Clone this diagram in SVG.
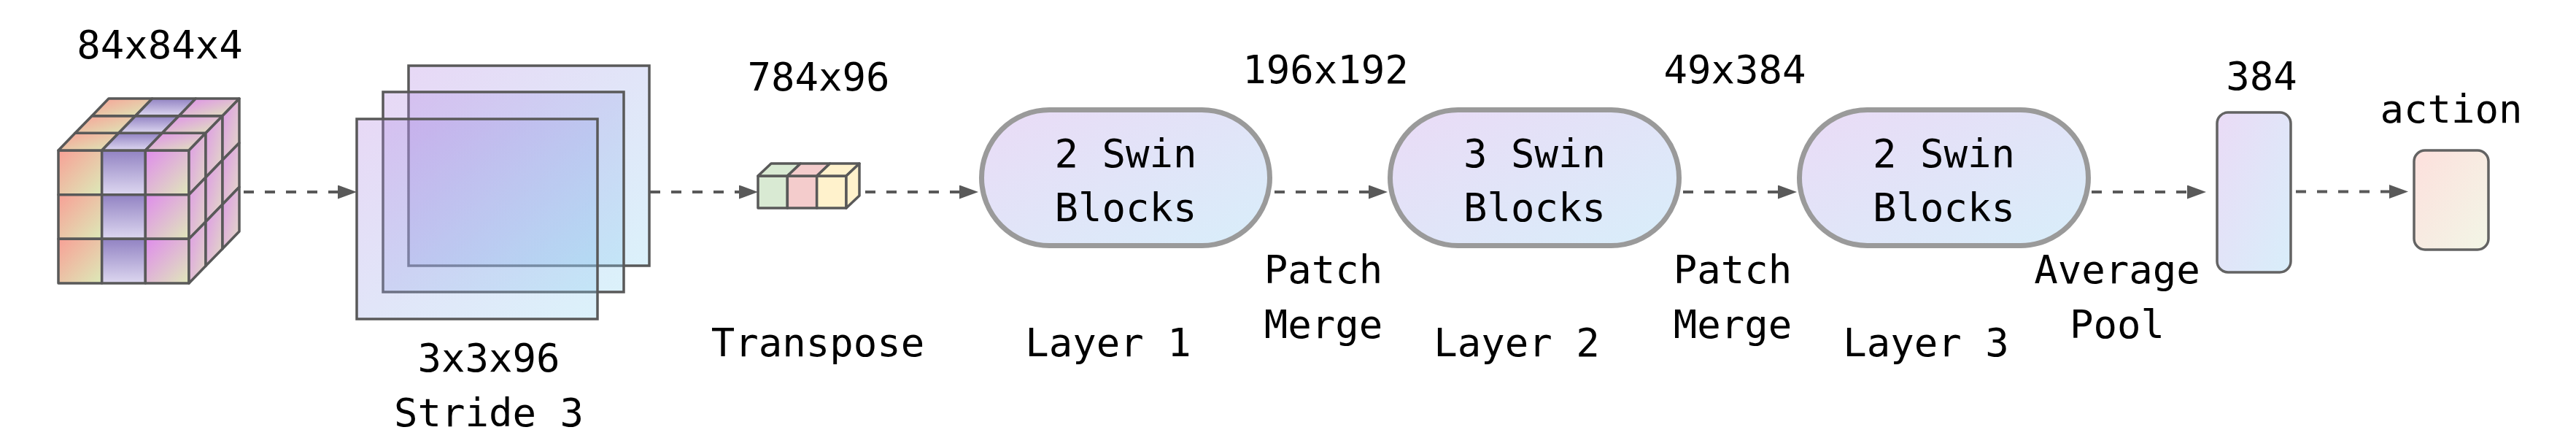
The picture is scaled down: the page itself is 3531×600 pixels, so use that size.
<svg xmlns="http://www.w3.org/2000/svg" width="3531" height="600" viewBox="0 0 3531 600">
<defs>
<style>
text{font-family:"DejaVu Sans Mono","Liberation Mono",monospace;font-size:54px;fill:#000;text-anchor:middle}
.c{stroke:#595959;stroke-width:3.5;stroke-linejoin:round}
.pill{fill:url(#gPill);stroke:#9a9a9a;stroke-width:7}
.conn{fill:none;stroke:#595959;stroke-width:4;stroke-dasharray:14 15}
.layer{fill:url(#gLayer);fill-opacity:0.3;stroke:#595959;stroke-width:3.5}
</style>
<linearGradient id="gA" x1="0" y1="0" x2="1" y2="1"><stop offset="0" stop-color="#f8a096"/><stop offset="1" stop-color="#dceab8"/></linearGradient>
<linearGradient id="gB" x1="0" y1="0" x2="0" y2="1"><stop offset="0" stop-color="#9283c3"/><stop offset="1" stop-color="#ddd7f0"/></linearGradient>
<linearGradient id="gC" x1="0" y1="0" x2="1" y2="1"><stop offset="0" stop-color="#df8cec"/><stop offset="1" stop-color="#e0e8ba"/></linearGradient>
<linearGradient id="gR" x1="0" y1="0" x2="1" y2="1"><stop offset="0" stop-color="#de98e8"/><stop offset="1" stop-color="#e2dcc4"/></linearGradient>
<linearGradient id="gLayer" x1="0" y1="0" x2="1" y2="1"><stop offset="0" stop-color="#b07fe0"/><stop offset="1" stop-color="#88d2f0"/></linearGradient>
<linearGradient id="gPill" x1="0" y1="0" x2="1" y2="1"><stop offset="0" stop-color="#eadbf6"/><stop offset="1" stop-color="#d8eefa"/></linearGradient>
<linearGradient id="gAct" x1="0" y1="0" x2="1" y2="1"><stop offset="0" stop-color="#fde0dd"/><stop offset="1" stop-color="#f2f6e6"/></linearGradient>
<marker id="ah" markerUnits="userSpaceOnUse" markerWidth="27" markerHeight="20" refX="0" refY="9.5" orient="auto"><path d="M0,0 L26,9.5 L0,19 Z" fill="#595959"/></marker>
</defs>
<rect width="3531" height="600" fill="#ffffff"/>

<g id="input-cube">
<text x="219" y="80">84x84x4</text>
<g class="c">
<rect x="80" y="206" width="59.67" height="60.67" fill="url(#gA)"/>
<rect x="80" y="266.67" width="59.67" height="60.67" fill="url(#gA)"/>
<rect x="80" y="327.33" width="59.67" height="60.67" fill="url(#gA)"/>
<rect x="139.67" y="206" width="59.67" height="60.67" fill="url(#gB)"/>
<rect x="139.67" y="266.67" width="59.67" height="60.67" fill="url(#gB)"/>
<rect x="139.67" y="327.33" width="59.67" height="60.67" fill="url(#gB)"/>
<rect x="199.33" y="206" width="59.67" height="60.67" fill="url(#gC)"/>
<rect x="199.33" y="266.67" width="59.67" height="60.67" fill="url(#gC)"/>
<rect x="199.33" y="327.33" width="59.67" height="60.67" fill="url(#gC)"/>
<polygon points="80,206 139.67,206 162.67,182.33 103,182.33" fill="url(#gA)"/>
<polygon points="139.67,206 199.33,206 222.33,182.33 162.67,182.33" fill="url(#gB)"/>
<polygon points="199.33,206 259,206 282,182.33 222.33,182.33" fill="url(#gC)"/>
<polygon points="103,182.33 162.67,182.33 185.67,158.67 126,158.67" fill="url(#gA)"/>
<polygon points="162.67,182.33 222.33,182.33 245.33,158.67 185.67,158.67" fill="url(#gB)"/>
<polygon points="222.33,182.33 282,182.33 305,158.67 245.33,158.67" fill="url(#gC)"/>
<polygon points="126,158.67 185.67,158.67 208.67,135 149,135" fill="url(#gA)"/>
<polygon points="185.67,158.67 245.33,158.67 268.33,135 208.67,135" fill="url(#gB)"/>
<polygon points="245.33,158.67 305,158.67 328,135 268.33,135" fill="url(#gC)"/>
<polygon points="259,206 282,182.33 282,243 259,266.67" fill="url(#gR)"/>
<polygon points="282,182.33 305,158.67 305,219.33 282,243" fill="url(#gR)"/>
<polygon points="305,158.67 328,135 328,195.67 305,219.33" fill="url(#gR)"/>
<polygon points="259,266.67 282,243 282,303.67 259,327.33" fill="url(#gR)"/>
<polygon points="282,243 305,219.33 305,280 282,303.67" fill="url(#gR)"/>
<polygon points="305,219.33 328,195.67 328,256.33 305,280" fill="url(#gR)"/>
<polygon points="259,327.33 282,303.67 282,364.33 259,388" fill="url(#gR)"/>
<polygon points="282,303.67 305,280 305,340.67 282,364.33" fill="url(#gR)"/>
<polygon points="305,280 328,256.33 328,317 305,340.67" fill="url(#gR)"/>
</g>
</g>

<g id="conv-layers">
<rect class="layer" x="560" y="90" width="330" height="274"/>
<rect class="layer" x="525" y="126" width="330" height="274"/>
<rect class="layer" x="489" y="163" width="330" height="274"/>
<text x="670" y="509">3x3x96</text>
<text x="670" y="584">Stride 3</text>
</g>

<g id="transpose">
<text x="1122" y="124">784x96</text>
<g class="c">
<rect x="1039" y="241" width="40.33" height="44" fill="#d9ead3"/>
<rect x="1079.33" y="241" width="40.33" height="44" fill="#f4cccc"/>
<rect x="1119.67" y="241" width="40.33" height="44" fill="#fff2cc"/>
<polygon points="1039,241 1079.33,241 1097.33,224 1057,224" fill="#d9ead3"/>
<polygon points="1079.33,241 1119.67,241 1137.67,224 1097.33,224" fill="#f4cccc"/>
<polygon points="1119.67,241 1160,241 1178,224 1137.67,224" fill="#fff2cc"/>
<polygon points="1160,241 1178,224 1178,268 1160,285" fill="#fff2cc"/>
</g>
<text x="1121" y="488">Transpose</text>
</g>

<g id="layer1">
<rect class="pill" x="1345.5" y="150.5" width="395" height="186" rx="93"/>
<text x="1543" y="229">2 Swin</text>
<text x="1543" y="303">Blocks</text>
<text x="1519" y="488">Layer 1</text>
</g>

<g id="merge1">
<text x="1817" y="114">196x192</text>
<text x="1814" y="388">Patch</text>
<text x="1814" y="463">Merge</text>
</g>

<g id="layer2">
<rect class="pill" x="1905.5" y="150.5" width="396" height="186" rx="93"/>
<text x="2103.5" y="229">3 Swin</text>
<text x="2103.5" y="303">Blocks</text>
<text x="2079" y="488">Layer 2</text>
</g>

<g id="merge2">
<text x="2378" y="114">49x384</text>
<text x="2375" y="388">Patch</text>
<text x="2375" y="463">Merge</text>
</g>

<g id="layer3">
<rect class="pill" x="2466.5" y="150.5" width="396" height="186" rx="93"/>
<text x="2664.5" y="229">2 Swin</text>
<text x="2664.5" y="303">Blocks</text>
<text x="2640" y="488">Layer 3</text>
</g>

<g id="avgpool">
<text x="2902" y="388">Average</text>
<text x="2902" y="463">Pool</text>
</g>

<g id="vector">
<text x="3100" y="123">384</text>
<rect x="3039" y="154" width="101" height="219" rx="15" fill="url(#gPill)" stroke="#636363" stroke-width="3.5"/>
</g>

<g id="action">
<text x="3360" y="168">action</text>
<rect x="3309" y="206" width="102" height="136" rx="15" fill="url(#gAct)" stroke="#636363" stroke-width="3.5"/>
</g>

<g id="connectors">
<line class="conn" x1="334" y1="263" x2="463" y2="263" marker-end="url(#ah)"/>
<line class="conn" x1="891" y1="263" x2="1013" y2="263" marker-end="url(#ah)"/>
<line class="conn" x1="1186" y1="263" x2="1315" y2="263" marker-end="url(#ah)"/>
<line class="conn" x1="1747" y1="263" x2="1876" y2="263" marker-end="url(#ah)"/>
<line class="conn" x1="2307" y1="263" x2="2437" y2="263" marker-end="url(#ah)"/>
<line class="conn" x1="2867" y1="263" x2="2998" y2="263" marker-end="url(#ah)"/>
<line class="conn" x1="3147" y1="262.5" x2="3275" y2="262.5" marker-end="url(#ah)"/>
</g>
</svg>
